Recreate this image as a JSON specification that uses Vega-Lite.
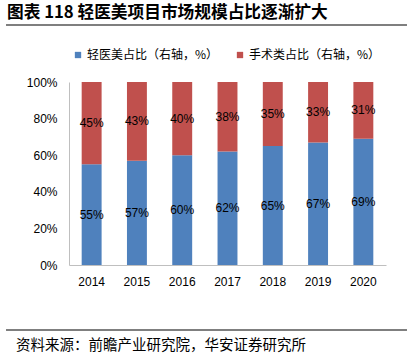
{
  "$schema": "https://vega.github.io/schema/vega-lite/v6.json",
  "padding": {"left": 5, "top": 0, "right": 0, "bottom": 0},
  "background": "white",
  "spacing": 18,
  "config": {"view": {"stroke": null}, "font": "Liberation Sans", "axis": {"labelOverlap": false}},
  "vconcat": [
    {
      "width": 317,
      "height": 58,
      "data": {"values": [{"t": "图表 118 轻医美项目市场规模占比逐渐扩大"}]},
      "layer": [
        {
          "mark": {"type": "text", "align": "left", "baseline": "middle", "font": "Noto Sans CJK SC", "fontWeight": "bold", "fontSize": 16.7, "color": "#000"},
          "encoding": {
            "x": {"datum": -0.1956, "type": "quantitative", "scale": {"domain": [0, 1]}, "axis": null},
            "y": {"datum": 0.7759, "type": "quantitative", "scale": {"domain": [0, 1]}, "axis": null},
            "text": {"field": "t"}
          }
        },
        {
          "mark": {"type": "rule", "color": "#555555", "strokeWidth": 1.5},
          "encoding": {
            "x": {"datum": -0.1987, "type": "quantitative", "axis": null},
            "x2": {"datum": 1.0662},
            "y": {"datum": 0.569, "type": "quantitative", "axis": null}
          }
        }
      ]
    },
    {
      "width": 317,
      "height": 183,
      "data": {"values": [
        {"year": "2014", "series": "轻医美占比（右轴，%）", "value": 0.55},
        {"year": "2015", "series": "轻医美占比（右轴，%）", "value": 0.57},
        {"year": "2016", "series": "轻医美占比（右轴，%）", "value": 0.60},
        {"year": "2017", "series": "轻医美占比（右轴，%）", "value": 0.62},
        {"year": "2018", "series": "轻医美占比（右轴，%）", "value": 0.65},
        {"year": "2019", "series": "轻医美占比（右轴，%）", "value": 0.67},
        {"year": "2020", "series": "轻医美占比（右轴，%）", "value": 0.69},
        {"year": "2014", "series": "手术类占比（右轴，%）", "value": 0.45},
        {"year": "2015", "series": "手术类占比（右轴，%）", "value": 0.43},
        {"year": "2016", "series": "手术类占比（右轴，%）", "value": 0.40},
        {"year": "2017", "series": "手术类占比（右轴，%）", "value": 0.38},
        {"year": "2018", "series": "手术类占比（右轴，%）", "value": 0.35},
        {"year": "2019", "series": "手术类占比（右轴，%）", "value": 0.33},
        {"year": "2020", "series": "手术类占比（右轴，%）", "value": 0.31}
      ]},
      "transform": [
        {"stack": "value", "groupby": ["year"], "sort": [{"field": "series", "order": "descending"}], "as": ["v0", "v1"]},
        {"calculate": "(datum.v0 + datum.v1) / 2", "as": "mid"}
      ],
      "layer": [
        {
          "mark": {"type": "bar"},
          "encoding": {
            "x": {
              "field": "year", "type": "ordinal",
              "scale": {"paddingInner": 0.56, "paddingOuter": 0.28},
              "axis": {"title": null, "labelAngle": 0, "ticks": false, "tickSize": 0, "labelPadding": 11, "labelFontSize": 12, "labelFont": "Liberation Sans", "labelColor": "#000", "domainColor": "#BFBFBF", "domainWidth": 1}
            },
            "y": {
              "field": "v0", "type": "quantitative",
              "scale": {"domain": [0, 1], "nice": false},
              "axis": {"title": null, "values": [0, 0.2, 0.4, 0.6, 0.8, 1], "format": ".0%", "grid": false, "ticks": false, "tickSize": 0, "labelPadding": 12, "labelFontSize": 12, "labelFont": "Liberation Sans", "labelColor": "#000", "labelOverlap": false, "labelFlush": false, "labelBound": false, "domainColor": "#BFBFBF", "domainWidth": 1}
            },
            "y2": {"field": "v1"},
            "color": {
              "field": "series", "type": "nominal",
              "scale": {"domain": ["轻医美占比（右轴，%）", "手术类占比（右轴，%）"], "range": ["#4F81BD", "#C0504D"]},
              "legend": {"title": null, "orient": "none", "legendX": 3, "legendY": 49, "direction": "horizontal", "symbolType": "square", "symbolSize": 40, "symbolStrokeWidth": 0, "labelFont": "Noto Sans CJK SC", "labelFontSize": 12, "labelColor": "#000", "columnPadding": 15, "labelOffset": 3}
            }
          }
        },
        {
          "mark": {"type": "text", "font": "Liberation Sans", "fontSize": 12, "color": "#000", "baseline": "middle"},
          "encoding": {
            "x": {
              "field": "year", "type": "ordinal",
              "axis": {"title": null, "labelAngle": 0, "ticks": false, "tickSize": 0, "labelPadding": 11, "labelFontSize": 12, "labelFont": "Liberation Sans", "labelColor": "#000", "domainColor": "#BFBFBF", "domainWidth": 1}
            },
            "y": {
              "field": "mid", "type": "quantitative",
              "axis": {"title": null, "values": [0, 0.2, 0.4, 0.6, 0.8, 1], "format": ".0%", "grid": false, "ticks": false, "tickSize": 0, "labelPadding": 12, "labelFontSize": 12, "labelFont": "Liberation Sans", "labelColor": "#000", "labelOverlap": false, "labelFlush": false, "labelBound": false, "domainColor": "#BFBFBF", "domainWidth": 1}
            },
            "text": {"field": "value", "type": "quantitative", "format": ".0%"}
          }
        }
      ]
    },
    {
      "width": 317,
      "height": 48,
      "data": {"values": [{"t": "资料来源：前瞻产业研究院，华安证券研究所"}]},
      "layer": [
        {
          "mark": {"type": "rule", "color": "#555555", "strokeWidth": 1.5},
          "encoding": {
            "x": {"datum": -0.1987, "type": "quantitative", "scale": {"domain": [0, 1]}, "axis": null},
            "x2": {"datum": 1.0662},
            "y": {"datum": 0.479, "type": "quantitative", "scale": {"domain": [0, 1]}, "axis": null}
          }
        },
        {
          "mark": {"type": "text", "align": "left", "baseline": "middle", "font": "Noto Sans CJK SC", "fontSize": 14.5, "color": "#000"},
          "encoding": {
            "x": {"datum": -0.1672, "type": "quantitative", "axis": null},
            "y": {"datum": 0.146, "type": "quantitative", "axis": null},
            "text": {"field": "t"}
          }
        }
      ]
    }
  ]
}
